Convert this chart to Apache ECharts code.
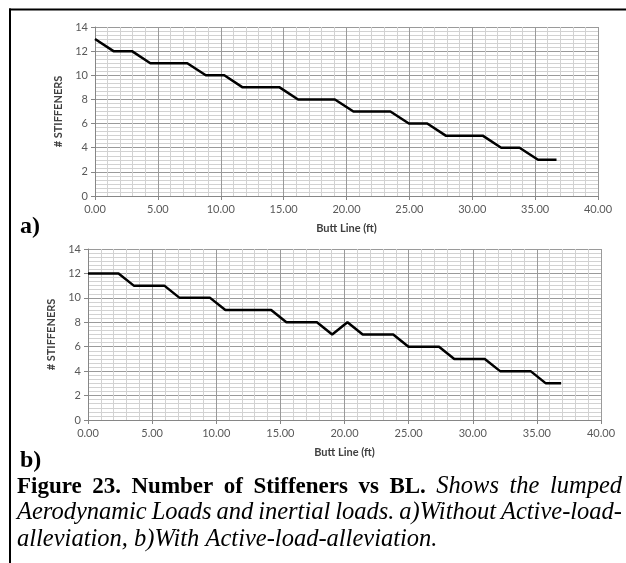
<!DOCTYPE html>
<html>
<head>
<meta charset="utf-8">
<script src="https://cdn.jsdelivr.net/npm/echarts@6/dist/echarts.min.js"></script>
<style>
  html, body { margin: 0; padding: 0; background: #fff; }
  #chart { width: 626px; height: 563px; }
</style>
</head>
<body>
<div id="chart"></div>
<script>
// Butt line stations (ft) and stiffener counts, without active load alleviation
const blNoAla = [0.00, 1.47, 2.94, 4.40, 5.87, 7.34, 8.81, 10.28, 11.74, 13.21, 14.68, 16.15, 17.62,
                 19.08, 20.55, 22.02, 23.49, 24.96, 26.42, 27.89, 29.36, 30.83, 32.30, 33.76, 35.23, 36.70];
const stiffNoAla = [13, 12, 12, 11, 11, 11, 10, 10, 9, 9, 9, 8, 8,
                    8, 7, 7, 7, 6, 6, 5, 5, 5, 4, 4, 3, 3];

// Butt line stations (ft) and stiffener counts, with active load alleviation
const blAla = [0.00, 1.19, 2.38, 3.57, 4.76, 5.95, 7.14, 8.33, 9.52, 10.71, 11.90, 13.09, 14.28, 15.47,
               16.66, 17.85, 19.04, 20.23, 21.42, 22.61, 23.80, 24.99, 26.18, 27.37, 28.56, 29.75,
               30.94, 32.13, 33.32, 34.51, 35.70, 36.89];
const stiffAla = [12, 12, 12, 11, 11, 11, 10, 10, 10, 9, 9, 9, 9, 8,
                  8, 8, 7, 8, 7, 7, 7, 6, 6, 6, 5, 5,
                  5, 4, 4, 4, 3, 3];

// Axis settings and titles
const xRange = [0, 40];
const xStep = 5;
const yRange = [0, 14];
const yStep = 2;
const xTitle = 'Butt Line (ft)';
const yTitle = '# STIFFENERS';
const panelTags = ['a)', 'b)'];

// Figure caption, one entry per printed line
const captionLines = [
  [['Figure', 'b'], ['23.', 'b'], ['Number', 'b'], ['of', 'b'], ['Stiffeners', 'b'], ['vs', 'b'], ['BL.', 'b'],
   ['Shows', 'i'], ['the', 'i'], ['lumped', 'i']],
  [['Aerodynamic', 'i'], ['Loads', 'i'], ['and', 'i'], ['inertial', 'i'], ['loads.', 'i'], ['a)Without', 'i'],
   ['Active-load-', 'i']],
  [['alleviation,', 'i'], ['b)With', 'i'], ['Active-load-alleviation.', 'i']]
];

const pairs = (xs, ys) => xs.map((x, i) => [x, ys[i]]);

const tickFont = { color: '#595959', fontFamily: 'Lato', fontSize: 11 };
const titleFont = { color: '#404040', fontFamily: 'Lato', fontSize: 11, fontWeight: 'bold' };

function xAxisFor(gridIndex, nameGap) {
  return {
    type: 'value', gridIndex, min: xRange[0], max: xRange[1], interval: xStep,
    name: xTitle, nameLocation: 'middle', nameGap, nameTextStyle: titleFont,
    axisLine: { show: true, lineStyle: { color: '#868686', width: 1 } },
    axisTick: { show: true, length: 4, lineStyle: { color: '#868686' } },
    minorTick: { show: true, splitNumber: 5, length: 0 },
    axisLabel: Object.assign({ margin: 8, formatter: v => v.toFixed(2) }, tickFont),
    splitLine: { show: true, lineStyle: { color: '#9a9a9a', width: 1 } },
    minorSplitLine: { show: true, lineStyle: { color: '#d2d2d2', width: 1 } }
  };
}

function yAxisFor(gridIndex, nameGap) {
  return {
    type: 'value', gridIndex, min: yRange[0], max: yRange[1], interval: yStep,
    name: yTitle, nameLocation: 'middle', nameGap, nameRotate: 90, nameTextStyle: titleFont,
    axisLine: { show: true, lineStyle: { color: '#868686', width: 1 } },
    axisTick: { show: true, length: 4, lineStyle: { color: '#868686' } },
    minorTick: { show: true, splitNumber: 6, length: 0 },
    axisLabel: Object.assign({ margin: 7 }, tickFont),
    splitLine: { show: true, lineStyle: { color: '#9a9a9a', width: 1 } },
    minorSplitLine: { show: true, lineStyle: { color: '#d2d2d2', width: 1 } }
  };
}

// Lay out the caption: justified lines span the full text block, the last line is set ragged
const measurer = document.createElement('canvas').getContext('2d');
const serif = '"Liberation Serif", "Times New Roman", serif';
const boldSize = 23, italicSize = 24.5;
function fontFor(style) {
  return style === 'b' ? 'bold ' + boldSize + 'px ' + serif : 'italic ' + italicSize + 'px ' + serif;
}
const textLeft = 17, textRight = 622;
const lineCentres = [487, 513, 540];
const captionGraphics = [];
captionLines.forEach((words, li) => {
  const widths = words.map(([t, s]) => { measurer.font = fontFor(s); return measurer.measureText(t).width; });
  measurer.font = fontFor('i');
  const normalGap = measurer.measureText(' ').width;
  const total = widths.reduce((a, b) => a + b, 0);
  const last = li === captionLines.length - 1;
  const gap = last ? normalGap : (textRight - textLeft - total) / (words.length - 1);
  let x = textLeft;
  words.forEach(([t, s], wi) => {
    captionGraphics.push({
      type: 'text', left: x, y: lineCentres[li],
      style: { text: t, font: fontFor(s), fill: '#000', verticalAlign: 'middle' }
    });
    x += widths[wi] + gap;
  });
});

const chart = echarts.init(document.getElementById('chart'), null, { renderer: 'canvas' });
chart.setOption({
  backgroundColor: '#fff',
  animation: false,
  grid: [
    { left: 95, right: 28, top: 27, height: 169 },
    { left: 88, right: 25, top: 249, height: 171 }
  ],
  xAxis: [xAxisFor(0, 27), xAxisFor(1, 27)],
  yAxis: [yAxisFor(0, 30), yAxisFor(1, 26)],
  series: [
    {
      type: 'line', xAxisIndex: 0, yAxisIndex: 0, data: pairs(blNoAla, stiffNoAla),
      showSymbol: false, lineStyle: { color: '#000', width: 2.5 }, itemStyle: { color: '#000' }
    },
    {
      type: 'line', xAxisIndex: 1, yAxisIndex: 1, data: pairs(blAla, stiffAla),
      showSymbol: false, lineStyle: { color: '#000', width: 2.5 }, itemStyle: { color: '#000' }
    }
  ],
  graphic: [
    // frame rules along the top and left edge
    { type: 'line', shape: { x1: 9, y1: 9.5, x2: 626, y2: 9.5 }, style: { stroke: '#000', lineWidth: 2 } },
    { type: 'line', shape: { x1: 10, y1: 8.5, x2: 10, y2: 563 }, style: { stroke: '#000', lineWidth: 2 } },
    {
      type: 'text', left: 20, top: 215,
      style: { text: panelTags[0], font: 'bold 24px ' + serif, fill: '#000' }
    },
    {
      type: 'text', left: 20, top: 449,
      style: { text: panelTags[1], font: 'bold 24px ' + serif, fill: '#000' }
    }
  ].concat(captionGraphics)
});
</script>
</body>
</html>
